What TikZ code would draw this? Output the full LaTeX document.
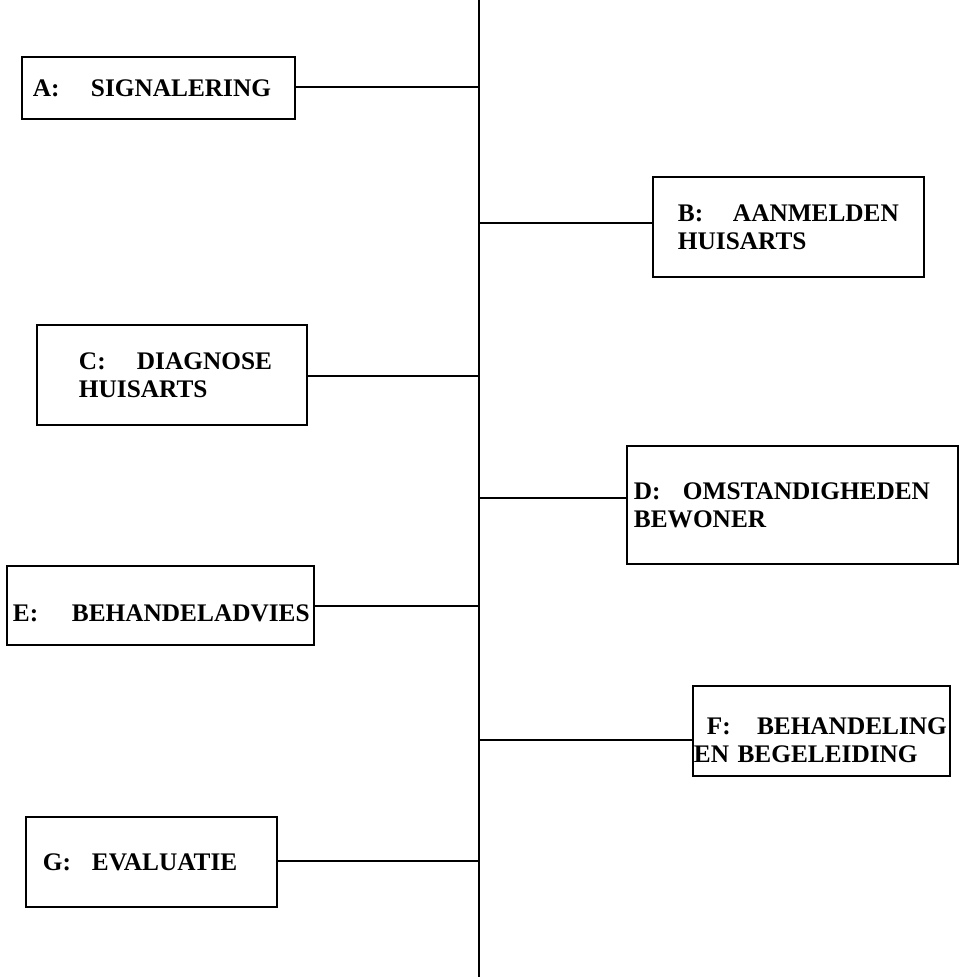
\documentclass[tikz,border=0pt]{standalone}
\usepackage{fontspec}
\setmainfont{Liberation Serif}
\newcommand{\stagetag}[2]{\makebox[#2][l]{#1:}}

\begin{document}
\begin{tikzpicture}[x=0.025cm,y=-0.025cm,
  stage/.style={draw,line width=1.9pt,align=left,inner ysep=0pt,
                font=\fontsize{18}{20}\selectfont\bfseries},
  spine/.style={line width=1.8pt},
  link/.style={line width=1.4pt}]
  \useasboundingbox (0,0) rectangle (959,977);
  % central time line
  \coordinate (top) at (479,0);
  \coordinate (bottom) at (479,977);
  \draw[spine] (top) -- (bottom);
  % stages, left and right of the line
  \node[stage,text width=6.275cm,inner xsep=0.275cm,minimum height=1.55cm] (A) at (158.5,88)
    {\stagetag{A}{1.45cm}SIGNALERING};
  \node[stage,text width=5.525cm,inner xsep=0.625cm,minimum height=2.5cm] (B) at (788.5,227)
    {\stagetag{B}{1.375cm}AANMELDEN\\HUISARTS};
  \node[stage,text width=4.65cm,inner xsep=1.05cm,minimum height=2.5cm] (C) at (172,375)
    {\stagetag{C}{1.45cm}DIAGNOSE\\HUISARTS};
  \node[stage,text width=7.925cm,inner xsep=0.175cm,minimum height=2.95cm] (D) at (792.5,505)
    {\stagetag{D}{1.225cm}OMSTANDIGHEDEN\\BEWONER};
  \node[stage,text width=7.375cm,inner xsep=0.15cm,minimum height=1.975cm] (E) at (160.5,605.5)
    {\rule{0pt}{0.82cm}\stagetag{E}{1.475cm}BEHANDELADVIES};
  \node[stage,text width=6.375cm,inner xsep=0.025cm,minimum height=2.25cm] (F) at (821.5,731)
    {\rule{0pt}{0.87cm}\hspace*{0.325cm}\stagetag{F}{1.25cm}BEHANDELING\\EN BEGELEIDING};
  \node[stage,text width=5.425cm,inner xsep=0.425cm,minimum height=2.25cm] (G) at (151.5,862)
    {\stagetag{G}{1.225cm}EVALUATIE};
  % branches to the line
  \foreach \n/\s/\y in {A/east/87,B/west/223,C/east/376,D/west/498,
                        E/east/606,F/west/740,G/east/861}{
    \coordinate (j\n) at (479,\y);
    \draw[link] (\n.\s |- j\n) -- (j\n);
  }
\end{tikzpicture}
\end{document}
